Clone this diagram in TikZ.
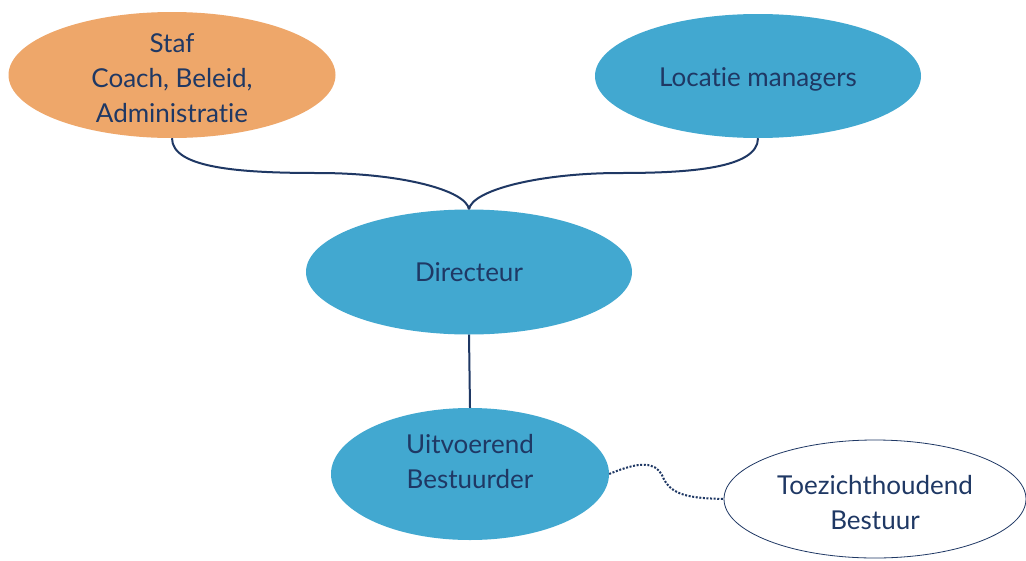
\documentclass[tikz,border=0pt]{standalone}
\usepackage{fontspec}
\setmainfont{Lato}[Ligatures=NoCommon]
\usetikzlibrary{shapes.geometric}
\definecolor{navy}{HTML}{1F3864}
\definecolor{oranje}{HTML}{EEA76A}
\definecolor{blauw}{HTML}{42A8D0}
\tikzset{
  bubble/.style={ellipse, inner sep=0pt},
  btext/.style={inner sep=0pt, align=center, text=navy,
    font=\fontsize{26}{35}\selectfont},
  link/.style={draw=navy, line width=2pt},
  dotlink/.style={draw=navy, line width=2pt, dash pattern=on 2pt off 1.6pt},
}
\begin{document}
\begin{tikzpicture}[x=1pt,y=-1pt]
\useasboundingbox (0,0) rectangle (1026,560);
\fill[white] (0,0) rectangle (1026,560);
\node[bubble, fill=oranje, minimum width=327pt, minimum height=126pt,
  label={[btext, yshift=-3pt]center:Staf\\Coach, Beleid,\\Administratie}] (staf) at (172,75) {};
\node[bubble, fill=blauw, minimum width=326pt, minimum height=124pt,
  label={[btext, yshift=-3pt]center:Locatie managers}] (loc) at (758,76) {};
\node[bubble, fill=blauw, minimum width=326pt, minimum height=125pt,
  label={[btext]center:Directeur}] (dir) at (469,272) {};
\node[bubble, fill=blauw, minimum width=278pt, minimum height=132pt,
  label={[btext, yshift=12pt]center:Uitvoerend\\Bestuurder}] (uit) at (470,474) {};
\node[bubble, draw=navy, line width=0.8pt, fill=white, minimum width=302pt, minimum height=118pt,
  label={[btext, yshift=-4pt]center:Toezichthoudend\\Bestuur}] (toe) at (875,499) {};
\coordinate (hl) at (318,173);
\coordinate (hr) at (620,173);
\draw[link] (staf.south) .. controls +(0,30) and (240,173) .. (hl)
  .. controls (400,173) and (466,190) .. (dir.north);
\draw[link] (loc.south) .. controls +(0,30) and (690,173) .. (hr)
  .. controls (540,173) and (472,190) .. (dir.north);
\draw[link] (dir.south) -- (uit.north);
\draw[dotlink] (uit.east) .. controls (640,461) and (655,462) .. (662,475)
  .. controls (670,496) and (690,498) .. (toe.west);
\end{tikzpicture}
\end{document}
